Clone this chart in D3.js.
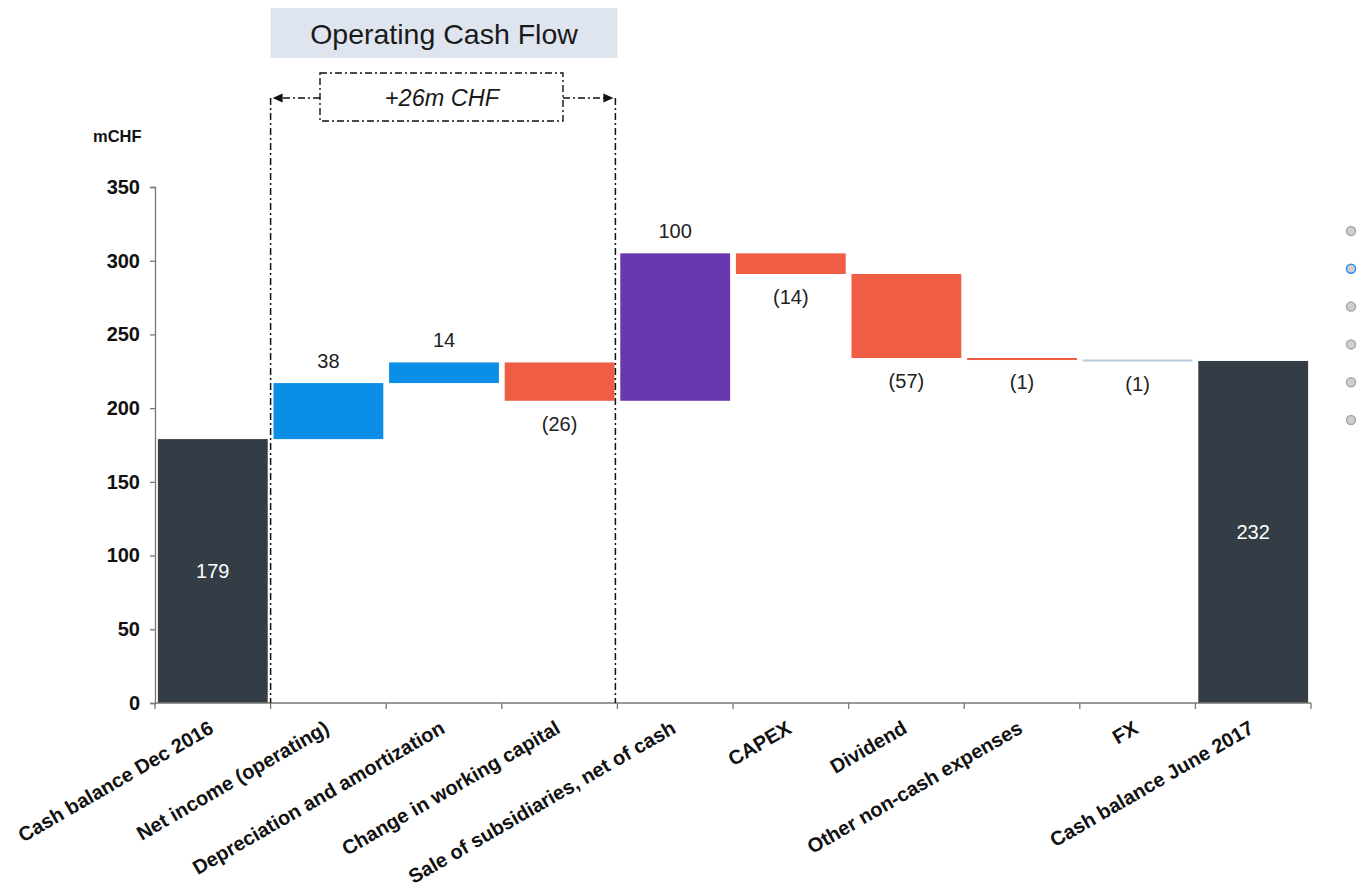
<!DOCTYPE html>
<html>
<head>
<meta charset="utf-8">
<script src="https://cdn.jsdelivr.net/npm/d3@7"></script>
<style>
  body { margin: 0; background: #fff; }
  svg { font-family: Arial, "Liberation Sans", sans-serif; }
</style>
</head>
<body>
<svg id="chart" width="1360" height="888"></svg>
<script>
// waterfall data (mCHF)
const categories = ["Cash balance Dec 2016", "Net income (operating)", "Depreciation and amortization",
  "Change in working capital", "Sale of subsidiaries, net of cash", "CAPEX", "Dividend",
  "Other non-cash expenses", "FX", "Cash balance June 2017"];
const values = [179, 38, 14, -26, 100, -14, -57, -1, -1, 232];
const kinds = ["total", "up", "up", "down", "sale", "down", "down", "down", "fx", "total"];
const valueLabels = ["179", "38", "14", "(26)", "100", "(14)", "(57)", "(1)", "(1)", "232"];
const yTicks = [0, 50, 100, 150, 200, 250, 300, 350];

const colors = { total: "#343c46", up: "#0a8ee6", down: "#ef5d45", sale: "#6a38ae", fx: "#b9c9dc" };

const svg = d3.select("#chart");
const mLeft = 155, mRight = 1311, mTop = 187, mBottom = 703;

const x = d3.scaleBand().domain(categories).range([mLeft, mRight]).paddingInner(0.05).paddingOuter(0.025);
const y = d3.scaleLinear().domain([0, 350]).range([mBottom, mTop]);

// running totals for the floating bars
let run = 0;
const bars = categories.map((c, i) => {
  let y0, y1;
  if (kinds[i] === "total") { y0 = 0; y1 = values[i]; run = values[i]; }
  else { y0 = run; y1 = run + values[i]; run = y1; }
  return { cat: c, kind: kinds[i], v: values[i], lo: Math.min(y0, y1), hi: Math.max(y0, y1), label: valueLabels[i] };
});

// category boundaries (ticks sit between bars)
const bound = i => x(categories[0]) + x.bandwidth() / 2 - x.step() / 2 + i * x.step();

// bars
svg.selectAll("rect.bar").data(bars).enter().append("rect")
  .attr("class", "bar")
  .attr("x", d => x(d.cat))
  .attr("width", x.bandwidth())
  .attr("y", d => y(d.hi))
  .attr("height", d => Math.max(2, y(d.lo) - y(d.hi)))
  .attr("fill", d => colors[d.kind]);

// value labels
svg.selectAll("text.val").data(bars).enter().append("text")
  .attr("class", "val")
  .attr("x", d => x(d.cat) + x.bandwidth() / 2)
  .attr("y", d => {
    if (d.kind === "total") return (y(d.lo) + y(d.hi)) / 2 + 7;
    if (d.v > 0) return y(d.hi) - 15;
    return y(d.lo) + 30;
  })
  .attr("text-anchor", "middle")
  .attr("font-size", "20px")
  .attr("fill", d => d.kind === "total" ? "#fff" : "#222")
  .text(d => d.label);

// y axis
const yAxis = svg.append("g").attr("transform", `translate(${mLeft},0)`)
  .call(d3.axisLeft(y).tickValues(yTicks).tickSize(5).tickPadding(10));
yAxis.select(".domain").attr("stroke", "#777").attr("stroke-width", 1.3);
yAxis.selectAll(".tick line").attr("stroke", "#777").attr("stroke-width", 1.3);
yAxis.selectAll(".tick text").attr("font-size", "20px").attr("font-weight", "bold").attr("fill", "#111")
  .attr("font-family", "Arial, 'Liberation Sans', sans-serif");

svg.append("text").attr("x", 93).attr("y", 142).attr("font-size", "16.5px").attr("font-weight", "bold")
  .attr("fill", "#111").text("mCHF");

// x axis line and boundary ticks
svg.append("line").attr("x1", mLeft).attr("x2", mRight).attr("y1", mBottom).attr("y2", mBottom)
  .attr("stroke", "#777").attr("stroke-width", 1.3);
svg.selectAll("line.xt").data(d3.range(categories.length + 1)).enter().append("line")
  .attr("x1", i => bound(i)).attr("x2", i => bound(i))
  .attr("y1", mBottom).attr("y2", mBottom + 6)
  .attr("stroke", "#777").attr("stroke-width", 1.3);

// rotated category labels
svg.selectAll("text.cat").data(categories).enter().append("text")
  .attr("class", "cat")
  .attr("transform", d => `translate(${x(d) + x.bandwidth() / 2 + 2},${mBottom + 29}) rotate(-30)`)
  .attr("text-anchor", "end")
  .attr("font-size", "20px")
  .attr("font-weight", "bold")
  .attr("fill", "#111")
  .text(d => d);

// operating cash flow bracket
const dash = "7,3,2,3";
const bx0 = bound(1), bx1 = bound(4);
svg.append("rect").attr("x", bx0).attr("y", 8).attr("width", bx1 - bx0).attr("height", 50).attr("fill", "#dfe5ee");
svg.append("text").attr("x", (bx0 + bx1) / 2).attr("y", 44).attr("text-anchor", "middle")
  .attr("font-size", "28.5px").attr("fill", "#1a1a1a").text("Operating Cash Flow");

svg.append("rect").attr("x", 320).attr("y", 73).attr("width", 243).attr("height", 48)
  .attr("fill", "none").attr("stroke", "#111").attr("stroke-width", 1.4).attr("stroke-dasharray", dash);
svg.append("text").attr("x", 442).attr("y", 106).attr("text-anchor", "middle")
  .attr("font-size", "23.5px").attr("font-style", "italic").attr("fill", "#1a1a1a").text("+26m CHF");

[bx0, bx1 - 2].forEach(bx => {
  svg.append("line").attr("x1", bx).attr("x2", bx).attr("y1", 98).attr("y2", mBottom)
    .attr("stroke", "#111").attr("stroke-width", 1.5).attr("stroke-dasharray", dash);
});
svg.append("line").attr("x1", 320).attr("x2", bx0 + 10).attr("y1", 98).attr("y2", 98)
  .attr("stroke", "#111").attr("stroke-width", 1.4).attr("stroke-dasharray", dash);
svg.append("line").attr("x1", 563).attr("x2", bx1 - 12).attr("y1", 98).attr("y2", 98)
  .attr("stroke", "#111").attr("stroke-width", 1.4).attr("stroke-dasharray", dash);
svg.append("path").attr("d", `M${bx0 + 2},98 L${bx0 + 12},93.5 L${bx0 + 12},102.5 Z`).attr("fill", "#111");
svg.append("path").attr("d", `M${bx1 - 4},98 L${bx1 - 14},93.5 L${bx1 - 14},102.5 Z`).attr("fill", "#111");

// side navigation dots
const dots = [0, 1, 2, 3, 4, 5];
svg.selectAll("circle.nav").data(dots).enter().append("circle")
  .attr("cx", 1351).attr("cy", d => 231 + d * 37.8).attr("r", 4.5)
  .attr("fill", "#cfcfcf")
  .attr("stroke", d => d === 1 ? "#2b8ef0" : "#a8a8a8").attr("stroke-width", 1.5);
</script>
</body>
</html>
